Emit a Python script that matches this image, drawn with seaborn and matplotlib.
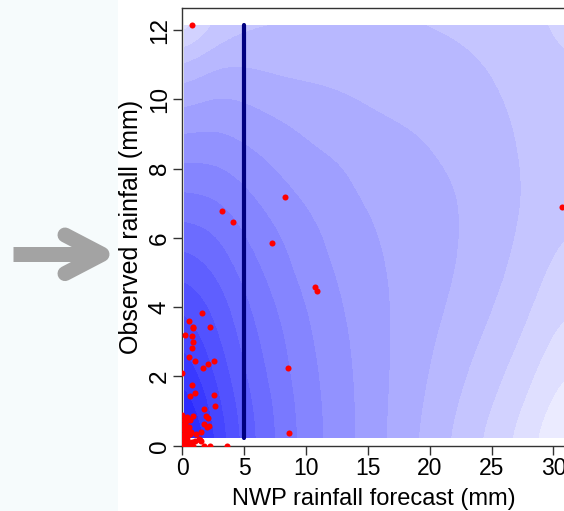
import numpy as np
import matplotlib
matplotlib.use("Agg")
import matplotlib.pyplot as plt
import seaborn as sns
from matplotlib.colors import ListedColormap, BoundaryNorm
from matplotlib.patches import Rectangle
from matplotlib.lines import Line2D

# ---------------- data ----------------
forecast = [30.72, 3.23, 4.10, 7.28, 10.73, 10.91, 8.30, 0.78, 8.57, 8.63,
            1.57, 0.57, 0.87, 0.89, 2.27, 0.22, 0.78, 0.87, 0.78, 0.57,
            1.03, 2.59, 2.05, 1.65, 0.00, 0.76, 1.03, 0.62, 2.59, 2.67,
            1.78, 1.89, 2.05, 0.89, 0.40, 0.14, 0.62, 0.25, 1.78, 2.18,
            2.02, 0.70, 1.49, 1.37, 1.51, 2.27, 3.64, 1.78, 1.45,
            0.05, 0.10, 0.20, 0.30, 0.40, 0.50, 0.60, 0.00, 0.10, 0.25,
            0.35, 0.50, 0.05, 0.15, 0.30, 0.45, 0.00, 0.20, 0.70, 0.80,
            0.60, 0.90, 1.00, 0.00, 0.00, 0.30, 1.10, 0.55, 0.15, 0.40]
observed = [6.88, 6.78, 6.46, 5.86, 4.57, 4.47, 7.19, 12.14, 2.23, 0.37,
            3.84, 3.59, 3.44, 3.39, 3.43, 3.20, 3.18, 2.99, 2.83, 2.55,
            2.45, 2.45, 2.35, 2.23, 2.11, 1.76, 1.53, 1.43, 1.47, 1.15,
            1.06, 0.87, 0.81, 0.86, 0.84, 0.74, 0.74, 0.62, 0.62, 0.58,
            0.54, 0.39, 0.39, 0.18, 0.13, 0.00, 0.00, 0.00, 0.16,
            0.05, 0.00, 0.10, 0.05, 0.00, 0.10, 0.00, 0.30, 0.25, 0.30,
            0.20, 0.30, 0.50, 0.45, 0.50, 0.45, 0.15, 0.00, 0.05, 0.10,
            0.35, 0.00, 0.15, 0.60, 0.90, 0.70, 0.35, 0.55, 0.20, 0.15]

threshold = 5.0
surface_x_range = (0.15, 30.8)
surface_y_range = (0.23, 12.15)
# surface intensity (0 = white, 1 = blue); one list per x column, bottom->top in y
surface_cols = [
    [0.90, 0.84, 0.79, 0.74, 0.69, 0.63, 0.57, 0.51, 0.45, 0.39, 0.32, 0.24, 0.10],
    [0.74, 0.72, 0.69, 0.66, 0.63, 0.59, 0.55, 0.50, 0.45, 0.40, 0.35, 0.29, 0.21],
    [0.62, 0.61, 0.59, 0.57, 0.55, 0.52, 0.49, 0.46, 0.42, 0.38, 0.34, 0.29, 0.24],
    [0.54, 0.535, 0.52, 0.51, 0.49, 0.47, 0.45, 0.42, 0.39, 0.36, 0.32, 0.28, 0.245],
    [0.47, 0.465, 0.46, 0.45, 0.44, 0.42, 0.41, 0.39, 0.36, 0.34, 0.31, 0.28, 0.25],
    [0.42, 0.42, 0.415, 0.41, 0.40, 0.39, 0.38, 0.36, 0.35, 0.33, 0.30, 0.28, 0.25],
    [0.37, 0.37, 0.37, 0.365, 0.36, 0.355, 0.35, 0.34, 0.33, 0.31, 0.29, 0.27, 0.25],
    [0.32, 0.325, 0.33, 0.335, 0.34, 0.34, 0.335, 0.33, 0.32, 0.30, 0.285, 0.27, 0.25],
    [0.27, 0.28, 0.29, 0.30, 0.31, 0.315, 0.315, 0.31, 0.30, 0.29, 0.28, 0.265, 0.245],
    [0.22, 0.235, 0.25, 0.265, 0.28, 0.29, 0.295, 0.295, 0.29, 0.28, 0.27, 0.255, 0.24],
    [0.17, 0.19, 0.21, 0.23, 0.245, 0.26, 0.265, 0.27, 0.265, 0.26, 0.25, 0.24, 0.225],
    [0.11, 0.135, 0.16, 0.185, 0.205, 0.22, 0.235, 0.24, 0.24, 0.235, 0.23, 0.22, 0.205],
    [0.04, 0.07, 0.10, 0.13, 0.16, 0.18, 0.20, 0.21, 0.215, 0.215, 0.21, 0.20, 0.19],
]
x_ticks = [0, 5, 10, 15, 20, 25, 30]
y_ticks = [0, 2, 4, 6, 8, 10, 12]
x_label = "NWP rainfall forecast (mm)"
y_label = "Observed rainfall (mm)"

# ---------------- figure ----------------
plt.rcParams["font.family"] = ["Liberation Sans", "DejaVu Sans"]
W, H = 564, 511
fig = plt.figure(figsize=(W / 100, H / 100), dpi=100)
fig.patch.set_facecolor("white")

# left tinted strip with grey arrow
fig.add_artist(Rectangle((0, 0), 118 / W, 1, transform=fig.transFigure,
                         facecolor="#f6fbfc", edgecolor="none", zorder=0))
def fx(px):
    return px / W
def fy(py):
    return 1 - py / H
arrow_col = "#a3a3a3"
fig.add_artist(Line2D([fx(13), fx(100)], [fy(254.3), fy(254.3)], color=arrow_col,
                      lw=10.8, solid_capstyle="butt", transform=fig.transFigure))
fig.add_artist(Line2D([fx(65), fx(102), fx(65)], [fy(235), fy(254.3), fy(273.6)],
                      color=arrow_col, lw=10.8, solid_capstyle="round",
                      solid_joinstyle="round", transform=fig.transFigure))

# axes geometry (pixels)
x0_px, y0_px = 182.3, 445.7
px_per_x, px_per_y = 12.37, 34.64
xmax = 30.95
ymax = (y0_px - 8) / px_per_y
ax = fig.add_axes([x0_px / W, (H - y0_px) / H,
                   xmax * px_per_x / W, (y0_px - 8) / H])
ax.set_facecolor("white")

# surface
Z = np.array(surface_cols).T
nx = Z.shape[1]
ny = Z.shape[0]
dx = (surface_x_range[1] - surface_x_range[0]) / (nx - 1)
dy = (surface_y_range[1] - surface_y_range[0]) / (ny - 1)
levels = np.linspace(0, 1, 21)
centers = (levels[:-1] + levels[1:]) / 2
cmap = ListedColormap([(1 - c, 1 - c, 1.0) for c in centers])
norm = BoundaryNorm(levels, cmap.N)
im = ax.imshow(Z, origin="lower",
               extent=[surface_x_range[0] - dx / 2, surface_x_range[1] + dx / 2,
                       surface_y_range[0] - dy / 2, surface_y_range[1] + dy / 2],
               aspect="auto", cmap=cmap, norm=norm, interpolation="bicubic",
               interpolation_stage="data", zorder=0)
clip = Rectangle((surface_x_range[0], surface_y_range[0]),
                 surface_x_range[1] - surface_x_range[0],
                 surface_y_range[1] - surface_y_range[0], transform=ax.transData)
im.set_clip_path(clip)

# threshold line
ax.vlines(threshold, surface_y_range[0], surface_y_range[1], color="#000080",
          lw=3.0, zorder=2, capstyle="round")

# points
sns.scatterplot(x=forecast, y=observed, color="#ff0000", s=19, linewidth=0,
                ax=ax, zorder=3)

ax.set_xlim(0, xmax)
ax.set_ylim(0, ymax)
ax.set_xticks(x_ticks)
ax.set_yticks(y_ticks)
ax.set_xticklabels([str(t) for t in x_ticks], fontsize=16.5)
ax.set_yticklabels([str(t) for t in y_ticks], rotation=90, va="center", fontsize=17.5)
spine_col = "#333333"
for s in ax.spines.values():
    s.set_color(spine_col)
    s.set_linewidth(1.0)
ax.tick_params(axis="both", direction="out", length=6.5, width=1.0,
               color=spine_col, labelcolor="black")
ax.tick_params(axis="x", pad=1.5)
ax.tick_params(axis="y", pad=1.7)
ax.set_xlabel(x_label, fontsize=17, labelpad=6.0)
ax.set_ylabel(y_label, fontsize=18, labelpad=4.5)

fig.savefig("out.png", dpi=100)
